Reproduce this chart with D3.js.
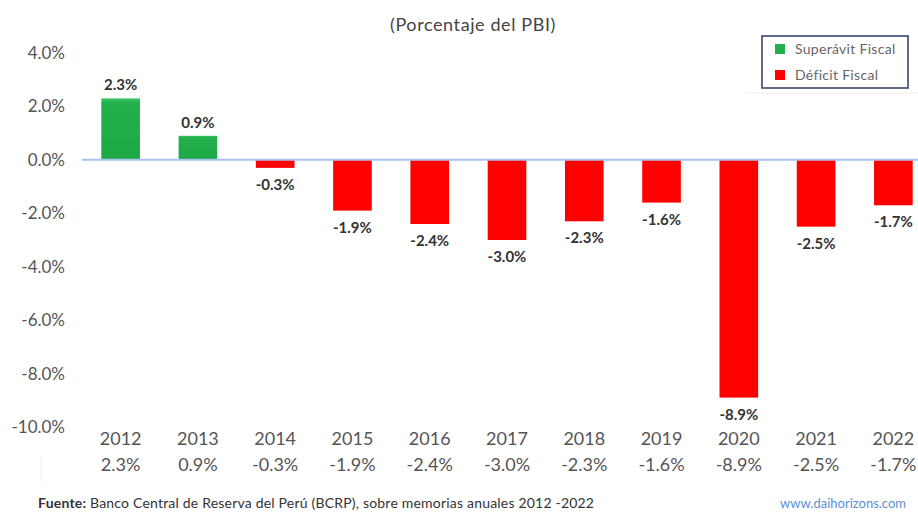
<!DOCTYPE html>
<html>
<head>
<meta charset="utf-8">
<script src="https://cdn.jsdelivr.net/npm/d3@7"></script>
<style>
  body { margin: 0; background: #fff; }
  svg { display: block; font-family: "Lato", "Open Sans", sans-serif; }
</style>
</head>
<body>
<svg id="viz" width="918" height="513"></svg>
<script>
// data
var years = ["2012", "2013", "2014", "2015", "2016", "2017", "2018", "2019", "2020", "2021", "2022"];
var balance = [2.3, 0.9, -0.3, -1.9, -2.4, -3.0, -2.3, -1.6, -8.9, -2.5, -1.7];
var yTicks = [4, 2, 0, -2, -4, -6, -8, -10];
var legendItems = ["Superávit Fiscal", "Déficit Fiscal"];

var green = "#21b04b", red = "#ff0000";
var fmt = function(v){ return v.toFixed(1) + "%"; };

var svg = d3.select("#viz");

// scales
var x = d3.scaleBand().domain(years).range([82, 932]).paddingInner(0.5).paddingOuter(0.25);
var y = d3.scaleLinear().domain([-10, 4]).range([427, 53]);

// gradient for the green bars
var defs = svg.append("defs");
var grad = defs.append("linearGradient").attr("id", "gGrad").attr("x1", 0).attr("x2", 0).attr("y1", 0).attr("y2", 1);
grad.append("stop").attr("offset", "0%").attr("stop-color", "#3cc266");
grad.append("stop").attr("offset", "8%").attr("stop-color", green);
grad.append("stop").attr("offset", "100%").attr("stop-color", "#1ea847");

// title
svg.append("text")
  .attr("x", 473).attr("y", 31)
  .attr("text-anchor", "middle")
  .attr("font-size", 18).attr("fill", "#444").attr("letter-spacing", 0.6)
  .text("(Porcentaje del PBI)");

// y axis labels
var yAxis = d3.axisLeft(y).tickValues(yTicks).tickFormat(fmt).tickSize(0).tickPadding(0);
svg.append("g")
  .attr("transform", "translate(65,0)")
  .call(yAxis)
  .call(function(g){ g.select(".domain").remove(); })
  .selectAll("text")
    .attr("font-size", 17).attr("fill", "#555")
    .attr("font-family", "Lato, sans-serif");

// bars
svg.append("g").selectAll("rect")
  .data(balance)
  .enter().append("rect")
    .attr("x", function(d, i){ return x(years[i]); })
    .attr("y", function(d){ return y(Math.max(0, d)); })
    .attr("width", x.bandwidth())
    .attr("height", function(d){ return Math.abs(y(d) - y(0)); })
    .attr("fill", function(d){ return d >= 0 ? "url(#gGrad)" : red; });

// zero line
svg.append("line")
  .attr("x1", 82).attr("x2", 918)
  .attr("y1", y(0)).attr("y2", y(0))
  .attr("stroke", "#a8c2f0").attr("stroke-width", 2);

// value labels on bars
svg.append("g").selectAll("text")
  .data(balance)
  .enter().append("text")
    .attr("x", function(d, i){ return x(years[i]) + x.bandwidth() / 2; })
    .attr("y", function(d){ return d >= 0 ? y(d) - 8 : y(d) + 22; })
    .attr("text-anchor", "middle")
    .attr("font-size", 15).attr("font-weight", "bold").attr("fill", "#333")
    .text(fmt);

// category labels + table row
var cat = svg.append("g");
cat.selectAll("text.year")
  .data(years)
  .enter().append("text")
    .attr("class", "year")
    .attr("x", function(d){ return x(d) + x.bandwidth() / 2; })
    .attr("y", 445)
    .attr("text-anchor", "middle")
    .attr("font-size", 18).attr("fill", "#555")
    .text(function(d){ return d; });
cat.selectAll("text.val")
  .data(balance)
  .enter().append("text")
    .attr("class", "val")
    .attr("x", function(d, i){ return x(years[i]) + x.bandwidth() / 2; })
    .attr("y", 471)
    .attr("text-anchor", "middle")
    .attr("font-size", 18).attr("fill", "#555")
    .text(fmt);

svg.append("line")
  .attr("x1", 41).attr("x2", 41).attr("y1", 455).attr("y2", 482)
  .attr("stroke", "#eee").attr("stroke-width", 1);

// legend
var legend = svg.append("g").attr("transform", "translate(762,36)");
legend.append("rect")
  .attr("width", 146).attr("height", 52)
  .attr("fill", "#fff").attr("stroke", "#2d3a66").attr("stroke-width", 1.5);
legend.selectAll("g.item")
  .data(legendItems)
  .enter().append("g")
    .attr("class", "item")
    .attr("transform", function(d, i){ return "translate(13," + (8 + i * 26) + ")"; })
    .each(function(d, i){
      var g = d3.select(this);
      g.append("rect").attr("width", 10).attr("height", 10).attr("fill", i === 0 ? green : red);
      g.append("text").attr("x", 20).attr("y", 10)
        .attr("font-size", 14).attr("fill", "#666").attr("letter-spacing", 0.3).text(d);
    });
svg.append("line")
  .attr("x1", 745).attr("x2", 918).attr("y1", 93).attr("y2", 93)
  .attr("stroke", "#eee");

// footer
var foot = svg.append("text").attr("x", 38).attr("y", 508).attr("font-size", 14).attr("fill", "#333").attr("letter-spacing", 0.2);
foot.append("tspan").attr("font-weight", "bold").text("Fuente:");
foot.append("tspan").text(" Banco Central de Reserva del Perú (BCRP), sobre memorias anuales 2012 -2022");
svg.append("text")
  .attr("x", 780).attr("y", 508)
  .attr("font-size", 13).attr("fill", "#5b8fd6")
  .text("www.daihorizons.com");
</script>
</body>
</html>
